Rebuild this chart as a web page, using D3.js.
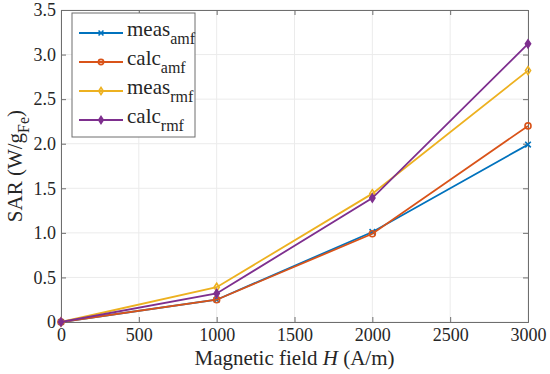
<!DOCTYPE html>
<html>
<head>
<meta charset="utf-8">
<script src="https://cdn.jsdelivr.net/npm/d3@7"></script>
</head>
<body style="margin:0;background:#fff">
<script>
// data
const fieldH = [0, 1000, 2000, 3000];
const measAmf = [0, 0.25, 1.01, 1.99];
const calcAmf = [0, 0.25, 0.99, 2.20];
const measRmf = [0, 0.39, 1.44, 2.82];
const calcRmf = [0, 0.32, 1.39, 3.12];
const xTicks = [0, 500, 1000, 1500, 2000, 2500, 3000];
const yTicks = [0, 0.5, 1, 1.5, 2, 2.5, 3, 3.5];

const series = [
  { name: "meas", sub: "amf", values: measAmf, color: "#0072BD", marker: "x" },
  { name: "calc", sub: "amf", values: calcAmf, color: "#D95319", marker: "o" },
  { name: "meas", sub: "rmf", values: measRmf, color: "#EDB120", marker: "d" },
  { name: "calc", sub: "rmf", values: calcRmf, color: "#7E2F8E", marker: "D" }
];

const FONT = "'Liberation Serif'";
const W = 550, H = 374;
const m = { top: 10, right: 22, bottom: 52, left: 61 };
const w = W - m.left - m.right;
const h = H - m.top - m.bottom;

const svg = d3.select("body").append("svg")
    .attr("width", W)
    .attr("height", H)
    .style("font-family", FONT);

const g = svg.append("g").attr("transform", "translate(" + m.left + "," + m.top + ")");

const x = d3.scaleLinear().domain([0, 3000]).range([0, w]);
const y = d3.scaleLinear().domain([0, 3.5]).range([h, 0]);

// grid
g.append("g").selectAll("line").data(xTicks).enter().append("line")
    .attr("x1", d => x(d)).attr("x2", d => x(d))
    .attr("y1", 0).attr("y2", h)
    .attr("stroke", "#ebebeb").attr("stroke-width", 1);
g.append("g").selectAll("line").data(yTicks).enter().append("line")
    .attr("y1", d => y(d)).attr("y2", d => y(d))
    .attr("x1", 0).attr("x2", w)
    .attr("stroke", "#ebebeb").attr("stroke-width", 1);

// axes (ticks inward, box on)
const fmtY = d => d === 0 ? "0" : d3.format(".1f")(d);
const axes = [
  { ax: d3.axisBottom(x).tickValues(xTicks).tickSize(-5).tickPadding(6).tickFormat(d3.format("d")), t: "translate(0," + h + ")" },
  { ax: d3.axisTop(x).tickValues(xTicks).tickSize(-5).tickFormat(""), t: "translate(0,0)" },
  { ax: d3.axisLeft(y).tickValues(yTicks).tickSize(-5).tickPadding(5).tickFormat(fmtY), t: "translate(0,0)" },
  { ax: d3.axisRight(y).tickValues(yTicks).tickSize(-5).tickFormat(""), t: "translate(" + w + ",0)" }
];
axes.forEach(a => {
  const ag = g.append("g").attr("transform", a.t).call(a.ax);
  ag.select(".domain").attr("stroke", "#6e6e6e").attr("stroke-width", 1);
  ag.selectAll(".tick line").attr("stroke", "#6e6e6e").attr("stroke-width", 1);
  ag.selectAll("text").style("font-family", FONT).style("font-size", "18px").attr("fill", "#262626");
});

// lines
const line = d3.line().x((d, i) => x(fieldH[i])).y(d => y(d));

function drawMarker(sel, type, color, size) {
  if (type === "x") {
    const s = size * 0.7;
    sel.append("path")
        .attr("d", "M" + (-s) + "," + (-s) + "L" + s + "," + s + "M" + (-s) + "," + s + "L" + s + "," + (-s))
        .attr("stroke", color).attr("stroke-width", 1.6).attr("fill", "none");
  } else if (type === "o") {
    sel.append("circle").attr("r", size * 0.75)
        .attr("stroke", color).attr("stroke-width", 1.6).attr("fill", "none");
  } else {
    const s = size;
    sel.append("path")
        .attr("d", "M0," + (-s) + "L" + (s * 0.65) + ",0L0," + s + "L" + (-s * 0.65) + ",0Z")
        .attr("stroke", color).attr("stroke-width", 1.6)
        .attr("fill", type === "D" ? color : "none");
  }
}

series.forEach(s => {
  g.append("path")
      .datum(s.values)
      .attr("d", line)
      .attr("fill", "none")
      .attr("stroke", s.color)
      .attr("stroke-width", 1.8);
  s.values.forEach((v, i) => {
    const mk = g.append("g").attr("transform", "translate(" + x(fieldH[i]) + "," + y(v) + ")");
    drawMarker(mk, s.marker, s.color, 4);
  });
});

// legend
const lg = svg.append("g").attr("transform", "translate(72,13)");
lg.append("rect")
    .attr("width", 123).attr("height", 124)
    .attr("fill", "#fff").attr("stroke", "#6e6e6e").attr("stroke-width", 1);
series.forEach((s, i) => {
  const yy = 20 + i * 29;
  const row = lg.append("g").attr("transform", "translate(0," + yy + ")");
  row.append("line").attr("x1", 7).attr("x2", 51).attr("y1", 0).attr("y2", 0)
      .attr("stroke", s.color).attr("stroke-width", 1.8);
  drawMarker(row.append("g").attr("transform", "translate(29,0)"), s.marker, s.color, 3.5);
  const t = row.append("text").attr("x", 55).attr("y", 3).style("font-size", "21px").attr("fill", "#262626");
  t.append("tspan").text(s.name);
  t.append("tspan").attr("dy", 8).style("font-size", "16px").text(s.sub);
});

// axis titles
const xl = svg.append("text")
    .attr("x", m.left + w / 2).attr("y", H - 9)
    .attr("text-anchor", "middle").style("font-size", "21px").attr("fill", "#262626");
xl.append("tspan").text("Magnetic field ");
xl.append("tspan").attr("font-style", "italic").text("H");
xl.append("tspan").text(" (A/m)");

const yl = svg.append("text")
    .attr("transform", "translate(22," + (m.top + h / 2) + ") rotate(-90)")
    .attr("text-anchor", "middle").style("font-size", "21px").attr("fill", "#262626");
yl.append("tspan").text("SAR (W/g");
yl.append("tspan").attr("dy", 7).style("font-size", "16px").text("Fe");
yl.append("tspan").attr("dy", -7).text(")");
</script>
</body>
</html>
